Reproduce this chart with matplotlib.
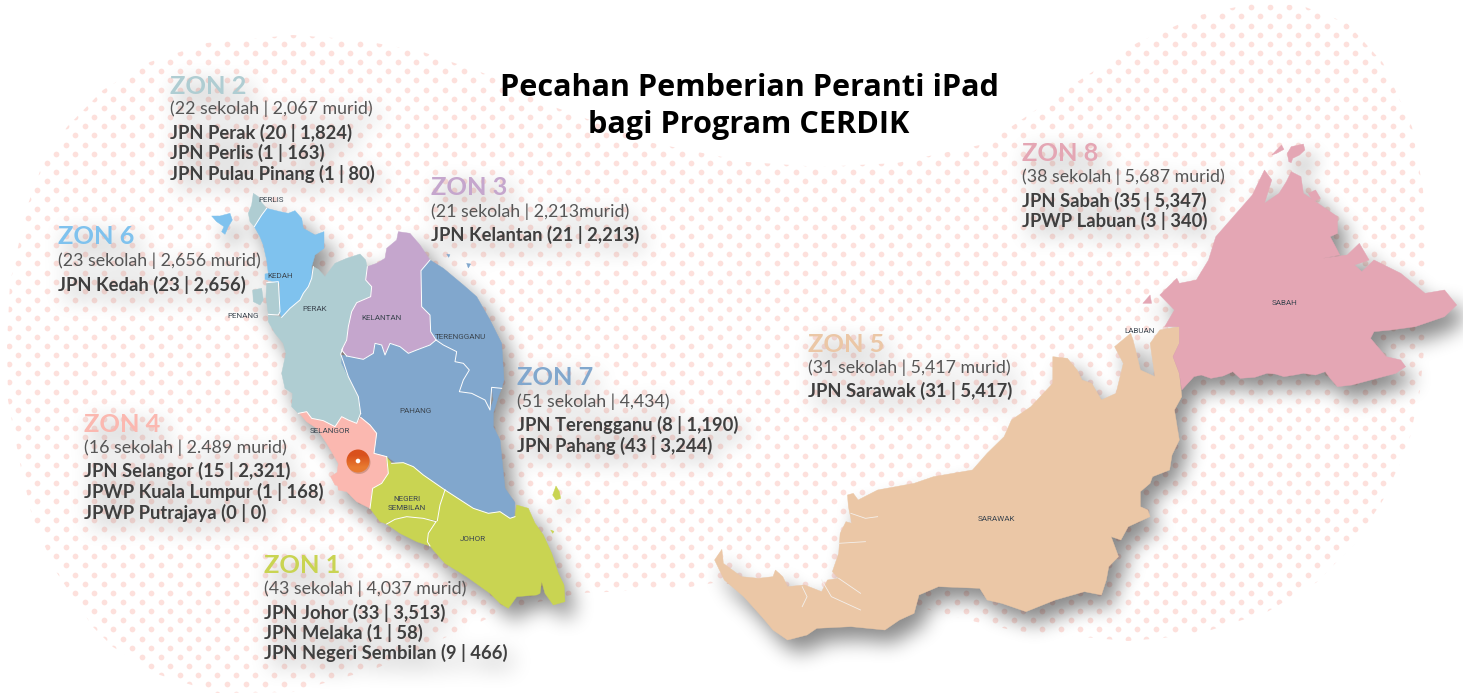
import numpy as np
import matplotlib
matplotlib.use("Agg")
import matplotlib.pyplot as plt
from matplotlib.patches import Circle, Polygon

W, H = 1463, 697

# -------- texto --------
title_lines = ["Pecahan Pemberian Peranti iPad", "bagi Program CERDIK"]

zon_names = ["ZON 2", "ZON 3", "ZON 6", "ZON 7", "ZON 4", "ZON 1", "ZON 5", "ZON 8"]
zon_totals = [
    "(22 sekolah | 2,067 murid)",
    "(21 sekolah | 2,213murid)",
    "(23 sekolah | 2,656 murid)",
    "(51 sekolah | 4,434)",
    "(16 sekolah | 2.489 murid)",
    "(43 sekolah | 4,037 murid)",
    "(31 sekolah | 5,417 murid)",
    "(38 sekolah | 5,687 murid)",
]
zon_rows = [
    ["JPN Perak (20 | 1,824)", "JPN Perlis (1 | 163)", "JPN Pulau Pinang (1 | 80)"],
    ["JPN Kelantan (21 | 2,213)"],
    ["JPN Kedah (23 | 2,656)"],
    ["JPN Terengganu (8 | 1,190)", "JPN Pahang (43 | 3,244)"],
    ["JPN Selangor (15 | 2,321)", "JPWP Kuala Lumpur (1 | 168)", "JPWP Putrajaya (0 | 0)"],
    ["JPN Johor (33 | 3,513)", "JPN Melaka (1 | 58)", "JPN Negeri Sembilan (9 | 466)"],
    ["JPN Sarawak (31 | 5,417)"],
    ["JPN Sabah (35 | 5,347)", "JPWP Labuan (3 | 340)"],
]
zon_colors = ["#afcdd2", "#c5a6cd", "#7fc2ee", "#81a7cd", "#fbb8b0", "#c9d452", "#ebc7a6", "#e4a6b4"]

# posiciones de los bloques (x, linea base de cada renglon)
zon_x = [170, 431, 58, 517, 84, 264, 808, 1022]
zon_y = [94, 195, 244, 385, 432, 573, 352, 161]
total_y = [114, 217, 266, 407, 453, 594, 373, 182]
row_y = [[139, 159, 180], [241], [291], [431, 452], [477, 498, 519], [619, 639, 659], [397], [207, 227]]

state_names = ["PERLIS", "KEDAH", "PENANG", "PERAK", "KELANTAN", "TERENGGANU", "PAHANG", "SELANGOR",
               "NEGERI", "SEMBILAN", "JOHOR", "SARAWAK", "SABAH", "LABUAN"]
state_x = [271, 280, 243, 315, 382, 460, 416, 330, 407, 407, 473, 996, 1285, 1140]
state_y = [200, 276, 316, 309, 318, 337, 411, 431, 499, 508, 539, 519, 303, 331]

# -------- contorno de la mancha de puntos (px) --------
blob = [(293, 35), (360, 40), (423, 52), (483, 73), (520, 90), (557, 108), (653, 143), (747, 162), (820, 167),
        (897, 163), (980, 145), (1002, 133), (1080, 80), (1137, 43), (1200, 15), (1250, 4), (1300, 5),
        (1347, 23), (1383, 63), (1412, 127), (1423, 190), (1428, 260), (1426, 330), (1420, 390), (1410, 437),
        (1400, 463), (1383, 500), (1355, 543), (1317, 582), (1267, 612), (1211, 630), (1163, 638), (1128, 641),
        (1016, 631), (972, 621), (919, 607), (820, 590), (713, 583), (690, 587), (607, 592), (580, 593),
        (510, 608), (480, 622), (377, 668), (293, 692), (217, 693), (160, 675), (113, 647), (93, 627),
        (57, 573), (33, 520), (20, 463), (8, 400), (7, 343), (10, 283), (27, 207), (43, 163), (67, 127),
        (103, 90), (150, 62), (207, 43)]

perlis = [(160, 40), (175, 50), (185, 68), (200, 85), (185, 105), (163, 140), (150, 125), (145, 100), (155, 75)]
kedah = [(200, 85), (240, 95), (265, 100), (285, 92), (305, 115), (310, 145), (345, 165), (372, 155), (372, 205),
         (345, 225), (335, 260), (335, 295), (325, 320), (310, 340), (300, 360), (270, 385), (245, 412), (238, 395),
         (240, 310), (195, 298), (195, 282), (205, 280), (200, 240), (190, 195), (180, 170), (163, 140), (185, 105)]
langkawi = [(35, 108), (60, 108), (90, 100), (97, 120), (85, 140), (75, 163), (65, 155), (72, 140), (50, 125)]
penang_isl = [(158, 330), (185, 325), (190, 360), (180, 375), (160, 365)]
penang = [(200, 308), (235, 305), (240, 395), (235, 405), (205, 403), (198, 350)]
perak = [(205, 405), (240, 410), (245, 412), (270, 385), (300, 360), (310, 340), (325, 320), (335, 295), (340, 260),
         (355, 268), (375, 290), (405, 250), (440, 235), (480, 222), (497, 240), (502, 265), (497, 300), (515, 320),
         (512, 350), (470, 368), (455, 395), (445, 465), (428, 505), (422, 522), (430, 545), (445, 590), (475, 650),
         (482, 700), (470, 730), (445, 720), (425, 710), (405, 740), (370, 722), (335, 715), (320, 695), (295, 700),
         (275, 680), (278, 640), (255, 625), (245, 580), (258, 520), (250, 490), (225, 460), (205, 425)]
kelantan = [(595, 155), (630, 160), (660, 195), (690, 240), (663, 272), (665, 380), (690, 405), (692, 455), (708, 480),
            (690, 495), (650, 510), (625, 520), (600, 500), (570, 490), (555, 525), (545, 495), (525, 490), (520, 520),
            (490, 538), (440, 528), (425, 510), (440, 480), (445, 440), (455, 395), (470, 368), (512, 350), (515, 320),
            (497, 300), (502, 260), (530, 250), (555, 235), (560, 205), (590, 180)]
terengganu = [(690, 240), (730, 265), (790, 315), (830, 350), (870, 420), (905, 490), (912, 600), (905, 625), (875, 622),
              (870, 690), (855, 660), (815, 640), (778, 635), (790, 600), (808, 570), (790, 550), (765, 545), (770, 515),
              (730, 495), (708, 480), (692, 455), (690, 405), (665, 380), (663, 272)]
pahang = [(425, 525), (440, 528), (490, 538), (520, 520), (525, 490), (545, 495), (555, 525), (570, 490), (600, 500),
          (625, 520), (650, 510), (690, 495), (708, 480), (730, 495), (770, 515), (765, 545), (790, 550), (808, 570),
          (790, 600), (778, 635), (815, 640), (855, 660), (870, 690), (880, 660), (875, 622), (905, 625), (895, 650),
          (880, 700), (880, 740), (900, 780), (905, 830), (915, 925), (945, 968), (942, 1010), (930, 1015), (900, 995),
          (865, 1000), (820, 985), (735, 930), (670, 885), (640, 860), (590, 850), (560, 830), (522, 820), (530, 760),
          (510, 735), (482, 712), (482, 700), (475, 650), (445, 590), (425, 550)]
selangor = [(298, 700), (320, 695), (335, 715), (370, 722), (405, 740), (425, 710), (445, 720), (470, 730), (482, 712),
            (510, 735), (530, 760), (522, 820), (560, 830), (565, 880), (545, 910), (518, 925), (510, 985), (470, 965),
            (440, 935), (415, 930), (410, 890), (415, 850), (380, 790), (350, 745), (320, 725)]
klang = [(392, 890), (410, 878), (430, 900), (425, 920), (405, 915)]
n9 = [(558, 828), (575, 850), (610, 848), (640, 860), (670, 885), (735, 930), (720, 975), (712, 1022), (670, 1015),
      (620, 1010), (585, 1018), (560, 1032), (540, 1025), (510, 985), (518, 925), (545, 910), (565, 880)]
melaka = [(560, 1032), (585, 1018), (620, 1010), (670, 1015), (708, 1025), (685, 1060), (682, 1085), (690, 1098),
          (650, 1085), (600, 1060)]
johor = [(735, 930), (820, 985), (865, 1000), (900, 995), (930, 1015), (945, 1010), (950, 975), (985, 985), (1005, 1030),
         (1030, 1065), (1055, 1120), (1075, 1180), (1092, 1215), (1095, 1265), (1060, 1275), (1035, 1240), (1025, 1205),
         (1020, 1240), (1010, 1245), (950, 1250), (925, 1285), (900, 1270), (870, 1240), (800, 1190), (735, 1150),
         (700, 1110), (690, 1098), (682, 1085), (685, 1060), (708, 1025), (720, 975)]
tioman = [(1068, 918), (1078, 935), (1082, 955), (1068, 960), (1058, 945)]
peq_islet = [(740, 222), (750, 224), (746, 232)]
ter_islet = [(800, 250), (812, 252), (805, 264)]
joh_islet = [(1052, 1050), (1062, 1054), (1058, 1060)]

sarawak = [(45, 1258), (48, 1300), (85, 1340), (120, 1345), (150, 1340), (155, 1320), (170, 1340), (180, 1370),
           (215, 1365), (250, 1385), (262, 1350), (285, 1345), (272, 1325), (285, 1270), (288, 1210), (300, 1175),
           (312, 1180), (305, 1130), (303, 1095), (315, 1090), (325, 1110), (365, 1080), (440, 1060), (480, 1040),
           (520, 1030), (560, 1020), (590, 970), (625, 920), (640, 870), (680, 830), (725, 760), (725, 680), (755, 685),
           (775, 720), (785, 750), (805, 760), (825, 810), (855, 790), (870, 700), (852, 650), (885, 610), (890, 630),
           (905, 720), (935, 740), (925, 640), (945, 600), (985, 590), (985, 640), (972, 680), (985, 730), (990, 800),
           (975, 840), (985, 930), (970, 975), (965, 1020), (930, 1040), (925, 1060), (905, 1085), (905, 1130), (920, 1140),
           (925, 1160), (880, 1190), (865, 1230), (845, 1220), (860, 1280), (840, 1310), (835, 1350), (825, 1395),
           (790, 1385), (730, 1410), (670, 1445), (620, 1420), (590, 1410), (575, 1375), (490, 1370), (450, 1395),
           (440, 1450), (410, 1470), (380, 1500), (310, 1490), (240, 1495), (220, 1515), (180, 1530), (150, 1500),
           (130, 1465), (90, 1400), (50, 1350), (30, 1290)]
sabah = [(955, 590), (975, 540), (945, 495), (980, 445), (985, 460), (1020, 450), (1045, 390), (1060, 320), (1090, 270),
         (1135, 195), (1160, 120), (1175, 150), (1160, 220), (1190, 190), (1205, 155), (1215, 125), (1235, 140),
         (1240, 190), (1270, 220), (1310, 260), (1310, 310), (1295, 320), (1315, 375), (1280, 385), (1330, 375),
         (1355, 340), (1375, 390), (1345, 405), (1360, 425), (1385, 390), (1440, 430), (1490, 490), (1530, 480),
         (1555, 525), (1530, 560), (1470, 590), (1420, 600), (1385, 605), (1378, 625), (1410, 680), (1440, 690),
         (1450, 710), (1430, 730), (1340, 765), (1310, 770), (1295, 745), (1285, 725), (1265, 735), (1240, 730),
         (1222, 735), (1200, 740), (1182, 732), (1165, 730), (1140, 742), (1110, 745), (1095, 725), (1075, 738),
         (1050, 745), (1030, 735), (1015, 740), (990, 780), (985, 730), (972, 680), (985, 640), (985, 590)]
banggi = [(1210, 95), (1207, 70), (1215, 50), (1240, 42), (1243, 60), (1232, 75), (1218, 85), (1215, 98)]
balambangan = [(1175, 75), (1195, 45), (1200, 58), (1185, 70)]
jambongan = [(1250, 190), (1265, 180), (1275, 205), (1260, 215)]
labuan = [(910, 520), (925, 495), (928, 520)]
sarawak_rivers = [
    [(310, 1150), (340, 1165), (365, 1160)],
    [(285, 1240), (340, 1235)],
    [(210, 1370), (220, 1400), (210, 1430)],
    [(250, 1350), (270, 1400), (330, 1440)],
    [(285, 1345), (330, 1390)],
]

# fronteras blancas entre estados (tramos de los contornos)
borders = [perlis[3:6], perak[2:9], perak[22:28], perak[27:36], penang[0:5],
           kelantan[3:9], kelantan[8:20], kelantan[19:29], terengganu[7:20],
           selangor[8:13], selangor[12:17], n9[1:6], n9[5:8], melaka[0:5], melaka[4:8], johor[0:6]]


def crop1(pts):
    return [(200 + x / 3, 180 + y / 3) for x, y in pts]


def crop2(pts):
    return [(700 + x / 2.055, 130 + y / 3) for x, y in pts]


C = dict(zip(["z2", "z3", "z6", "z7", "z4", "z1", "z5", "z8"], zon_colors))
shapes = [
    (crop1(perlis), C["z2"]), (crop1(penang_isl), C["z2"]), (crop1(perak), C["z2"]), (crop1(penang), C["z2"]),
    (crop1(kedah), C["z6"]), (crop1(langkawi), C["z6"]),
    (crop1(kelantan), C["z3"]),
    (crop1(pahang), C["z7"]), (crop1(terengganu), C["z7"]), (crop1(peq_islet), C["z7"]), (crop1(ter_islet), C["z7"]),
    (crop1(selangor), C["z4"]), (crop1(klang), C["z4"]),
    (crop1(n9), C["z1"]), (crop1(melaka), C["z1"]), (crop1(johor), C["z1"]), (crop1(tioman), C["z1"]),
    (crop1(joh_islet), C["z1"]),
    (crop2(sarawak), C["z5"]),
    (crop2(sabah), C["z8"]), (crop2(banggi), C["z8"]), (crop2(balambangan), C["z8"]), (crop2(jambongan), C["z8"]),
    (crop2(labuan), C["z8"]),
]

FONT = "Lato"
TITLE_FONT = "Open Sans"


def new_canvas():
    fig = plt.figure(figsize=(W / 100, H / 100), dpi=100)
    ax = fig.add_axes([0, 0, 1, 1])
    ax.set_xlim(0, W)
    ax.set_ylim(H, 0)
    ax.axis("off")
    return fig, ax


def draw_text(ax, shadow=False):
    for i in range(len(zon_names)):
        c1 = "black" if shadow else zon_colors[i]
        c2 = "black" if shadow else "#565656"
        c3 = "black" if shadow else "#3f3f3f"
        ax.text(zon_x[i], zon_y[i], zon_names[i], color=c1, fontsize=18.3, fontweight="bold", family=FONT,
                va="baseline", zorder=6)
        ax.text(zon_x[i], total_y[i], zon_totals[i], color=c2, fontsize=12.8, family=FONT, va="baseline", zorder=6)
        for row, y in zip(zon_rows[i], row_y[i]):
            ax.text(zon_x[i], y, row, color=c3, fontsize=13.2, fontweight="bold", family=FONT,
                    va="baseline", zorder=6)


def grab_mask(fig):
    fig.canvas.draw()
    arr = np.asarray(fig.canvas.buffer_rgba())[:, :, 0].astype(float)
    plt.close(fig)
    return 1 - arr / 255


def box_blur(a, r, passes=3):
    kernel = np.ones(2 * r + 1) / (2 * r + 1)
    out = a
    for _ in range(passes):
        out = np.apply_along_axis(lambda v: np.convolve(v, kernel, mode="same"), 0, out)
        out = np.apply_along_axis(lambda v: np.convolve(v, kernel, mode="same"), 1, out)
    return out


def shift(a, dx_px, dy_px):
    out = np.zeros_like(a)
    out[dy_px:, dx_px:] = a[:H - dy_px, :W - dx_px]
    return out


# ============================================================
# sombras: primero se dibujan en negro y se desenfocan
# ============================================================
fig, ax = new_canvas()
for pts, col in shapes:
    ax.add_patch(Polygon(pts, closed=True, fc="black", ec="black", lw=0))
map_mask = grab_mask(fig)

fig, ax = new_canvas()
draw_text(ax, shadow=True)
text_mask = grab_mask(fig)

map_shadow = shift(box_blur(map_mask, 9), 9, 13)
text_shadow = shift(box_blur(text_mask, 10), 5, 8)
shadow_alpha = np.clip(0.46 * map_shadow + 0.42 * text_shadow, 0, 0.6)
shadow_img = np.zeros((H, W, 4))
shadow_img[:, :, 3] = shadow_alpha

# ============================================================
# figura final
# ============================================================
fig, ax = new_canvas()

blob_patch = Polygon(blob, closed=True, fc="white", ec="none", zorder=0)
ax.add_patch(blob_patch)

# trama de puntos escalonada
dx, dy = 18.96, 9.15
dot_x, dot_y = [], []
for j in range(-50, 50):
    xs = 1222.3 + dx * np.arange(-66, 14) + (dx / 2 if j % 2 else 0)
    dot_x.extend(xs)
    dot_y.extend([400.7 + dy * j] * len(xs))
dots = ax.scatter(dot_x, dot_y, s=17, color="#fde0dc", linewidths=0, zorder=1)
dots.set_clip_path(blob_patch)

ax.imshow(shadow_img, extent=(0, W, H, 0), interpolation="nearest", zorder=2, aspect="auto")
ax.set_xlim(0, W)
ax.set_ylim(H, 0)

for pts, col in shapes:
    ax.add_patch(Polygon(pts, closed=True, fc=col, ec=col, lw=0.3, zorder=3))
for b in borders:
    pts = np.array(crop1(b))
    ax.plot(pts[:, 0], pts[:, 1], color="white", lw=0.7, zorder=4)
for r in sarawak_rivers:
    pts = np.array(crop2(r))
    ax.plot(pts[:, 0], pts[:, 1], color="#f4f0ec", lw=0.6, zorder=4)

# marcador de Kuala Lumpur
ax.add_patch(Circle((359, 462.5), 11.5, fc="#8a5a40", ec="none", alpha=0.35, zorder=4))
pin = Circle((358, 461), 11.5, fc="none", ec="none", zorder=5)
ax.add_patch(pin)
grad = np.array([[217, 80, 28], [232, 122, 48]], dtype=np.uint8)[:, None, :]
im = ax.imshow(grad, extent=(346, 370, 473, 449), interpolation="bilinear", zorder=5, aspect="auto")
im.set_clip_path(pin)
ax.add_patch(Circle((358, 461), 2.3, fc="white", ec="none", zorder=6))
ax.set_xlim(0, W)
ax.set_ylim(H, 0)

for name, x, y in zip(state_names, state_x, state_y):
    ax.text(x, y, name, color="#3c4650", fontsize=5.8, family="Roboto", ha="center", va="center", zorder=6)

draw_text(ax)

for line, y in zip(title_lines, [96, 133]):
    ax.text(749, y, line, color="black", fontsize=22.1, fontweight="bold", family=TITLE_FONT,
            ha="center", va="baseline", zorder=7)

fig.savefig("out.png", dpi=100)
